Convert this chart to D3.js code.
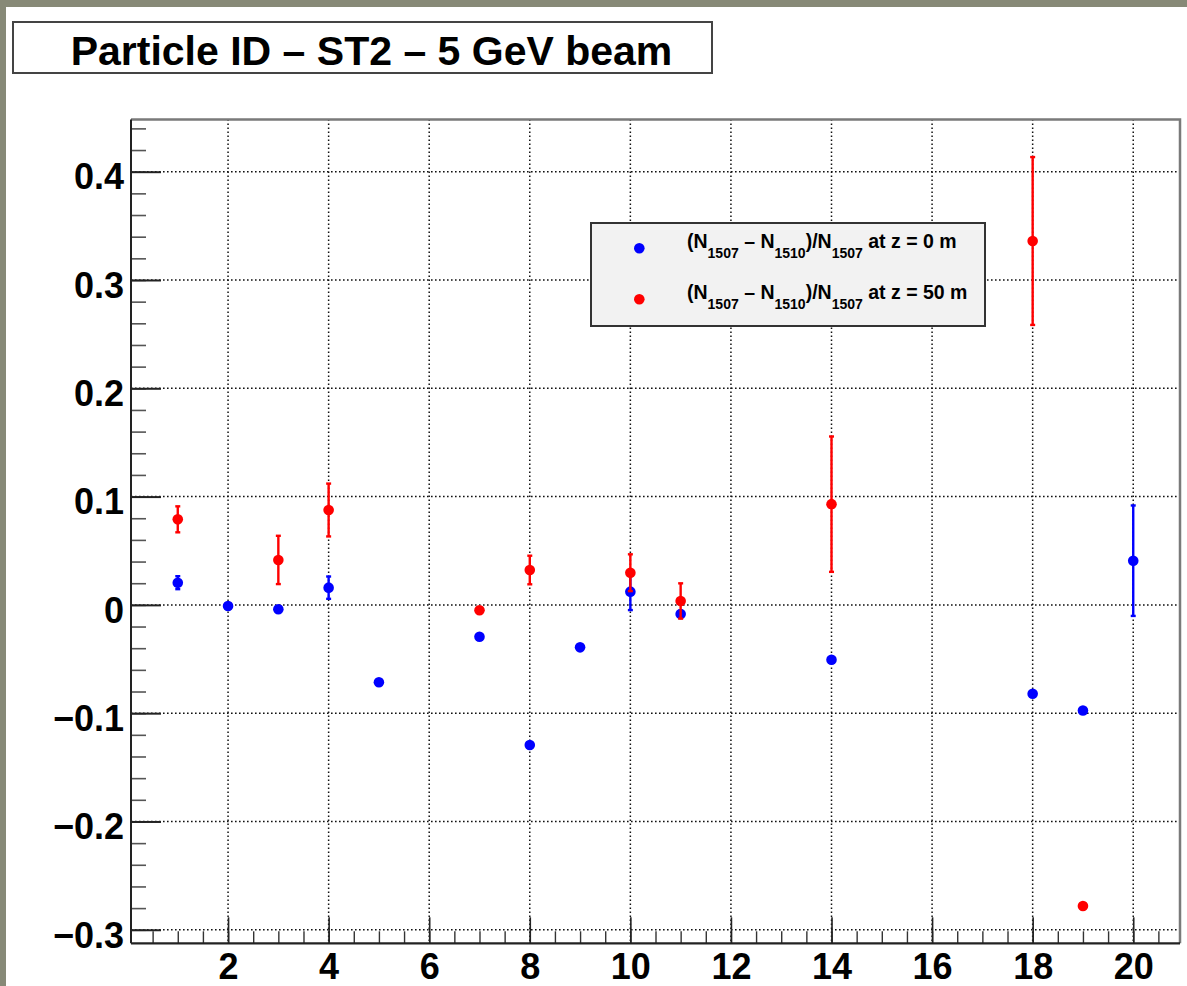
<!DOCTYPE html>
<html><head><meta charset="utf-8">
<script src="https://cdn.jsdelivr.net/npm/d3@7"></script>
<style>body{margin:0;padding:0;overflow:hidden;background:#fff}svg{display:block}</style>
</head><body>
<script>
// ---- data ----
const titleText = "Particle ID \u2013 ST2 \u2013 5 GeV beam";
const blueX   = [1, 2, 3, 4, 5, 7, 8, 9, 10, 11, 14, 18, 19, 20];
const blueY   = [0.0205, -0.001, -0.004, 0.0159, -0.0715, -0.0294, -0.1294, -0.0392, 0.0122, -0.0084, -0.0506, -0.082, -0.0976, 0.0408];
const blueErr = [0.006, 0, 0, 0.0103, 0, 0, 0, 0, 0.017, 0.003, 0, 0, 0, 0.051];
const redX    = [1, 3, 4, 7, 8, 10, 11, 14, 18, 19];
const redY    = [0.079, 0.0415, 0.0876, -0.005, 0.0322, 0.0297, 0.0036, 0.093, 0.336, -0.278];
const redErr  = [0.012, 0.0223, 0.0244, 0, 0.0132, 0.017, 0.0163, 0.0625, 0.0775, 0];
const xMajorTicks = [2, 4, 6, 8, 10, 12, 14, 16, 18, 20];
const yMajorTicks = [-0.3, -0.2, -0.1, 0, 0.1, 0.2, 0.3, 0.4];
const legendLabels = ["0 m", "50 m"];

const W = 1187, H = 986;
const FONT = "'Liberation Sans', Arial, Helvetica, sans-serif";
const svg = d3.select("body").append("svg").attr("width", W).attr("height", H);

// canvas
svg.append("rect").attr("width", W).attr("height", H).attr("fill", "#878977");
svg.append("rect").attr("x", 6).attr("y", 7).attr("width", W - 6).attr("height", H - 7).attr("fill", "#fff");

const L = 131, R = 1180, T = 119.5, B = 943.3;
const x = d3.scaleLinear().domain([0.07, 20.93]).range([L, R]);
const y = d3.scaleLinear().domain([-0.3125, 0.4482]).range([B, T]);

// grid
const grid = svg.append("g");
grid.selectAll("line.gx").data(xMajorTicks).join("line")
  .attr("x1", d => x(d)).attr("x2", d => x(d)).attr("y1", T).attr("y2", B)
  .attr("stroke", "#111").attr("stroke-width", 1.5).attr("stroke-dasharray", "1.6,2.4");
grid.selectAll("line.gy").data(yMajorTicks).join("line")
  .attr("y1", d => y(d)).attr("y2", d => y(d)).attr("x1", L).attr("x2", R)
  .attr("stroke", "#111").attr("stroke-width", 1.5).attr("stroke-dasharray", "1.6,2.4");

// frame (top/right)
svg.append("path").attr("d", `M${L},${T}H${R}V${B}`).attr("fill", "none")
  .attr("stroke", "#7a7a7a").attr("stroke-width", 2.5);

// y axis minor
const yMinor = d3.range(-30, 45, 2).map(v => v / 100);
const yMinorAxis = d3.axisLeft(y).tickValues(yMinor).tickSizeInner(-15).tickSizeOuter(0).tickFormat("");
svg.append("g").attr("transform", `translate(${L},0)`).call(yMinorAxis)
  .call(g => g.select(".domain").remove())
  .call(g => g.selectAll("line").attr("stroke", "#555").attr("stroke-width", 1.6));
const yAxis = d3.axisLeft(y).tickValues(yMajorTicks).tickSizeInner(-30).tickSizeOuter(0).tickPadding(6)
  .tickFormat(d => d === 0 ? "0" : (d < 0 ? "\u2212" : "") + Math.abs(d).toFixed(1));
svg.append("g").attr("transform", `translate(${L},0)`).call(yAxis)
  .call(g => g.select(".domain").attr("stroke", "#222").attr("stroke-width", 2).attr("d", `M0,${T}V${B}`))
  .call(g => g.selectAll("line").attr("stroke", "#222").attr("stroke-width", 2))
  .call(g => g.selectAll("text").attr("font-family", FONT).attr("font-weight", "bold")
     .attr("font-size", 36).attr("fill", "#000").attr("x", -7).attr("dy", "0.48em"));

// x axis minor
const xMinor = d3.range(1, 42).map(v => v / 2).filter(v => v > 0.07 && v < 20.93);
const xMinorAxis = d3.axisBottom(x).tickValues(xMinor).tickSizeInner(-12).tickSizeOuter(0).tickFormat("");
svg.append("g").attr("transform", `translate(0,${B})`).call(xMinorAxis)
  .call(g => g.select(".domain").remove())
  .call(g => g.selectAll("line").attr("stroke", "#333").attr("stroke-width", 1.4));
const xAxis = d3.axisBottom(x).tickValues(xMajorTicks).tickSizeInner(-26).tickSizeOuter(0).tickPadding(10)
  .tickFormat(d3.format("d"));
svg.append("g").attr("transform", `translate(0,${B})`).call(xAxis)
  .call(g => g.select(".domain").attr("stroke", "#222").attr("stroke-width", 2.2).attr("d", `M${L},0H${R}`))
  .call(g => g.selectAll("line").attr("stroke", "#222").attr("stroke-width", 1.6))
  .call(g => g.selectAll("text").attr("font-family", FONT).attr("font-weight", "bold")
     .attr("font-size", 36).attr("fill", "#000").attr("y", 36).attr("dy", 0));

// series
function drawSeries(xs, ys, es, color) {
  const g = svg.append("g");
  const pts = xs.map((v, i) => ({x: v, y: ys[i], e: es[i]}));
  const withErr = pts.filter(p => p.e > 0);
  g.selectAll("line.eb").data(withErr).join("line")
    .attr("x1", d => x(d.x)).attr("x2", d => x(d.x))
    .attr("y1", d => y(d.y + d.e)).attr("y2", d => y(d.y - d.e))
    .attr("stroke", color).attr("stroke-width", 2.4);
  ["+", "-"].forEach(s => {
    g.selectAll("line.cap" + (s === "+" ? "p" : "m")).data(withErr).join("line")
      .attr("x1", d => x(d.x) - 2.5).attr("x2", d => x(d.x) + 2.5)
      .attr("y1", d => y(s === "+" ? d.y + d.e : d.y - d.e))
      .attr("y2", d => y(s === "+" ? d.y + d.e : d.y - d.e))
      .attr("stroke", color).attr("stroke-width", 2.4);
  });
  g.selectAll("circle").data(pts).join("circle")
    .attr("cx", d => x(d.x)).attr("cy", d => y(d.y)).attr("r", 5.3).attr("fill", color);
}
drawSeries(blueX, blueY, blueErr, "#0000ff");
drawSeries(redX, redY, redErr, "#ff0000");

// legend
const lg = svg.append("g");
lg.append("rect").attr("x", 591).attr("y", 223).attr("width", 394).attr("height", 103)
  .attr("fill", "#f2f2f2").attr("stroke", "#333").attr("stroke-width", 2);
const legColors = ["#0000ff", "#ff0000"];
legendLabels.forEach((lab, i) => {
  const cy = 248.3 + i * 51;
  lg.append("circle").attr("cx", 639.3).attr("cy", cy).attr("r", 5.3).attr("fill", legColors[i]);
  const t = lg.append("text").attr("x", 687).attr("y", cy).attr("font-family", FONT)
    .attr("font-weight", "bold").attr("font-size", 19.5).attr("fill", "#000");
  const parts = [["(N", 0], ["1507", 1], [" \u2013 N", 0], ["1510", 1], [")/N", 0], ["1507", 1], [" at z = " + lab, 0]];
  let prevSub = 0;
  parts.forEach(([s, sub]) => {
    const dy = sub - prevSub;
    t.append("tspan").attr("dy", dy === 0 ? null : dy * 10)
      .attr("font-size", sub ? 14 : 19.5).text(s);
    prevSub = sub;
  });
});

// title
svg.append("rect").attr("x", 13).attr("y", 22).attr("width", 699).attr("height", 51)
  .attr("fill", "#fff").attr("stroke", "#444").attr("stroke-width", 2);
svg.append("text").attr("x", 371.5).attr("y", 65).attr("text-anchor", "middle")
  .attr("font-family", FONT).attr("font-weight", "bold").attr("font-size", 41).attr("fill", "#000")
  .text(titleText);
</script>
</body></html>
